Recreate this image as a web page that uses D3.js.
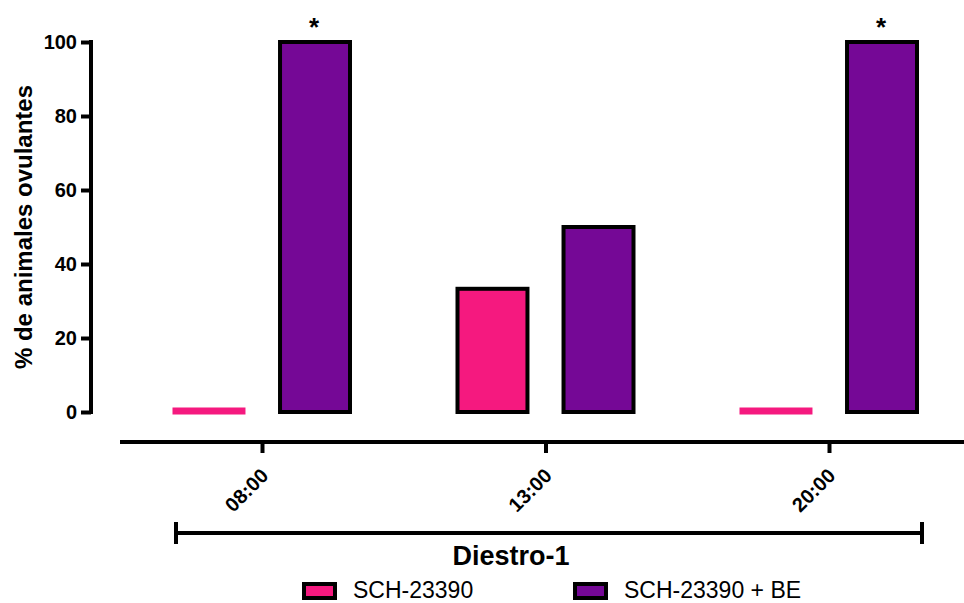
<!DOCTYPE html>
<html><head><meta charset="utf-8">
<script src="https://cdn.jsdelivr.net/npm/d3@7"></script>
<style>body{margin:0;background:#fff;} text{font-family:"Liberation Sans",Arial,sans-serif;}</style>
</head><body>
<svg id="c" width="964" height="603"></svg>
<script>
const categories = ["08:00","13:00","20:00"];
const seriesNames = ["SCH-23390","SCH-23390 + BE"];
const sch = [0, 33.3, 0];
const schBE = [100, 50, 100];
const significant = [true, false, true];
const yTicks = [0,20,40,60,80,100];
const colors = ["#F5197F","#750896"];

const svg = d3.select("#c");
const y = d3.scaleLinear().domain([0,100]).range([412,42]);
const x = d3.scalePoint().domain(categories).range([262,829]);
const xs = d3.scaleBand().domain([0,1]).range([-88,88]).paddingInner(0.34).paddingOuter(0);

// y axis
const ya = svg.append("g").attr("transform","translate(91,0)")
  .call(d3.axisLeft(y).tickValues(yTicks).tickSize(10).tickPadding(4));
ya.select(".domain").attr("stroke","#000").attr("stroke-width",4).attr("d","M0,40V414");
ya.selectAll(".tick line").attr("stroke","#000").attr("stroke-width",4);
ya.selectAll(".tick text").attr("font-size",20).attr("font-weight","bold").attr("fill","#000")
  .style("font-family","Liberation Sans, Arial, sans-serif");

// x axis
const xa = svg.append("g").attr("transform","translate(0,442)")
  .call(d3.axisBottom(x).tickSize(11).tickPadding(4));
xa.select(".domain").attr("stroke","#000").attr("stroke-width",4).attr("d","M120,0H964");
xa.selectAll(".tick line").attr("stroke","#000").attr("stroke-width",4);
xa.selectAll(".tick text").attr("font-size",20).attr("font-weight","bold").attr("fill","#000")
  .style("font-family","Liberation Sans, Arial, sans-serif")
  .attr("text-anchor","end").attr("dy",null).attr("y",0)
  .attr("transform","translate(7,35) rotate(-45)");

// bars
const data = [];
categories.forEach((c,i)=>{ data.push({c,s:0,v:sch[i]}); data.push({c,s:1,v:schBE[i],sig:significant[i]}); });
const bw = xs.bandwidth();
const g = svg.append("g");
data.forEach(d=>{
  const cx = x(d.c) + xs(d.s);
  if (d.v === 0) {
    g.append("rect").attr("x",cx-1.5).attr("width",bw+3).attr("y",y(0)-4.5).attr("height",7).attr("fill",colors[d.s]);
  } else {
    g.append("rect").attr("x",cx).attr("width",bw).attr("y",y(d.v)).attr("height",y(0)-y(d.v))
      .attr("fill",colors[d.s]).attr("stroke","#000").attr("stroke-width",4);
  }
  if (d.sig) {
    g.append("text").attr("x",cx+bw/2-1).attr("y",y(d.v)-6).attr("text-anchor","middle")
      .attr("font-size",26).attr("font-weight","bold").text("*");
  }
});

// y label
svg.append("text").attr("transform","translate(32,227) rotate(-90)").attr("text-anchor","middle")
  .attr("font-size",24).attr("font-weight","bold").text("% de animales ovulantes");

// bracket
const br = svg.append("g").attr("stroke","#000").attr("stroke-width",4);
br.append("line").attr("x1",176).attr("x2",922).attr("y1",533).attr("y2",533);
br.append("line").attr("x1",176).attr("x2",176).attr("y1",522).attr("y2",544);
br.append("line").attr("x1",922).attr("x2",922).attr("y1",522).attr("y2",544);
svg.append("text").attr("x",511).attr("y",565).attr("text-anchor","middle")
  .attr("font-size",27).attr("font-weight","bold").text("Diestro-1");

// legend
const lx = [304, 575];
seriesNames.forEach((n,i)=>{
  svg.append("rect").attr("x",lx[i]).attr("y",584).attr("width",31).attr("height",14)
    .attr("fill",colors[i]).attr("stroke","#000").attr("stroke-width",4);
  svg.append("text").attr("x",lx[i]+49).attr("y",598).attr("font-size",23).text(n);
});
</script>
</body></html>
